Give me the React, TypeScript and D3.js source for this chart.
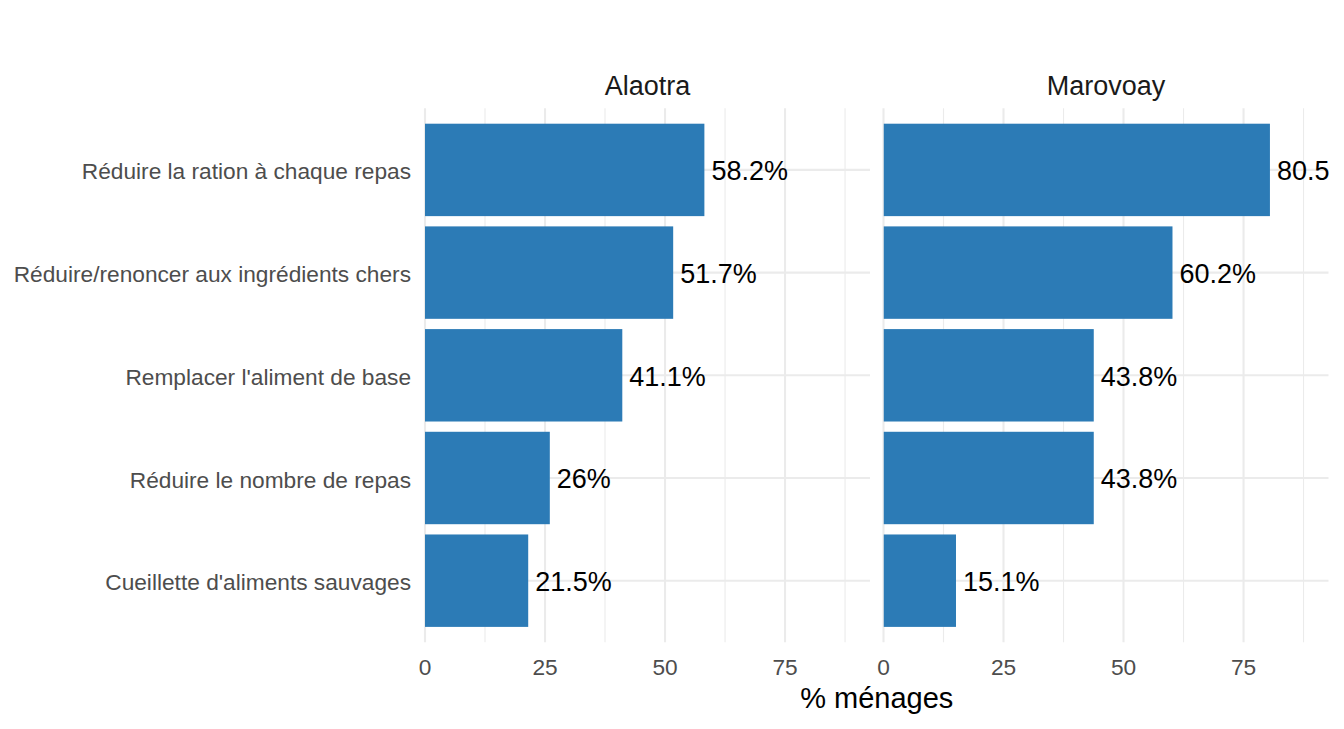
import React from "react";
import * as d3 from "d3";

const categories = [
  "Réduire la ration à chaque repas",
  "Réduire/renoncer aux ingrédients chers",
  "Remplacer l'aliment de base",
  "Réduire le nombre de repas",
  "Cueillette d'aliments sauvages",
];
const facets = ["Alaotra", "Marovoay"];
const alaotraValues = [58.2, 51.7, 41.1, 26, 21.5];
const marovoayValues = [80.5, 60.2, 43.8, 43.8, 15.1];
const labelsAlaotra = ["58.2%", "51.7%", "41.1%", "26%", "21.5%"];
const labelsMarovoay = ["80.5%", "60.2%", "43.8%", "43.8%", "15.1%"];
const majorTicks = [0, 25, 50, 75];
const minorTicks = [12.5, 37.5, 62.5, 87.5];

const W = 1344;
const H = 729;
const FONT = "'Liberation Sans', Arial, sans-serif";
const BAR = "#2C7BB6";
const GRID = "#EBEBEB";

export default function App() {
  const panelTop = 108.3;
  const panelBottom = 642.3;
  const panelW = 445;
  const panelLefts = [425, 883.5];
  const x = d3.scaleLinear().domain([0, 92.7]).range([0, panelW]);
  const step = (panelBottom - panelTop) / (categories.length - 1 + 1.2);
  const y = d3
    .scaleBand()
    .domain(categories)
    .range([panelTop + 0.6 * step - step / 2, panelBottom - 0.6 * step + step / 2])
    .paddingInner(0.1)
    .paddingOuter(0.05);
  const yc = (c: string) => (y(c) as number) + y.bandwidth() / 2;
  const data = [
    { name: facets[0], values: alaotraValues, labels: labelsAlaotra },
    { name: facets[1], values: marovoayValues, labels: labelsMarovoay },
  ];

  return (
    <svg
      width={W}
      height={H}
      style={{ position: "absolute", left: 0, top: 0, background: "#fff" }}
      fontFamily={FONT}
    >
      <defs>
        {panelLefts.map((pl, i) => (
          <clipPath id={`clip${i}`} key={i}>
            <rect x={pl} y={panelTop} width={panelW + 1} height={panelBottom - panelTop} />
          </clipPath>
        ))}
      </defs>
      {data.map((f, i) => {
        const pl = panelLefts[i];
        return (
          <g key={f.name}>
            {minorTicks.map((t) => (
              <line
                key={"m" + t}
                x1={pl + x(t)}
                x2={pl + x(t)}
                y1={panelTop}
                y2={panelBottom}
                stroke={GRID}
                strokeWidth={1.1}
              />
            ))}
            {majorTicks.map((t) => (
              <line
                key={"M" + t}
                x1={pl + x(t)}
                x2={pl + x(t)}
                y1={panelTop}
                y2={panelBottom}
                stroke={GRID}
                strokeWidth={2.1}
              />
            ))}
            {categories.map((c) => (
              <line
                key={"h" + c}
                x1={pl}
                x2={pl + panelW}
                y1={yc(c)}
                y2={yc(c)}
                stroke={GRID}
                strokeWidth={2.1}
              />
            ))}
            <g clipPath={`url(#clip${i})`}>
              {categories.map((c, j) => (
                <rect
                  key={"b" + c}
                  x={pl + x(0)}
                  y={y(c)}
                  width={x(f.values[j]) - x(0)}
                  height={y.bandwidth()}
                  fill={BAR}
                />
              ))}
              {categories.map((c, j) => (
                <text
                  key={"l" + c}
                  x={pl + x(f.values[j]) + 7}
                  y={yc(c)}
                  dy="0.38em"
                  fontSize={27}
                  fill="#000"
                >
                  {f.labels[j]}
                </text>
              ))}
            </g>
            <text
              x={pl + panelW / 2}
              y={95}
              textAnchor="middle"
              fontSize={27}
              fill="#1A1A1A"
            >
              {f.name}
            </text>
            {majorTicks.map((t) => (
              <text
                key={"t" + t}
                x={pl + x(t)}
                y={675}
                textAnchor="middle"
                fontSize={22.7}
                fill="#4D4D4D"
              >
                {t}
              </text>
            ))}
          </g>
        );
      })}
      {categories.map((c) => (
        <text
          key={"y" + c}
          x={411}
          y={yc(c)}
          dy="0.42em"
          textAnchor="end"
          fontSize={22.7}
          fill="#4D4D4D"
        >
          {c}
        </text>
      ))}
      <text
        x={(panelLefts[0] + panelLefts[1] + panelW) / 2}
        y={708}
        textAnchor="middle"
        fontSize={29}
        fill="#000"
      >
        % ménages
      </text>
    </svg>
  );
}
